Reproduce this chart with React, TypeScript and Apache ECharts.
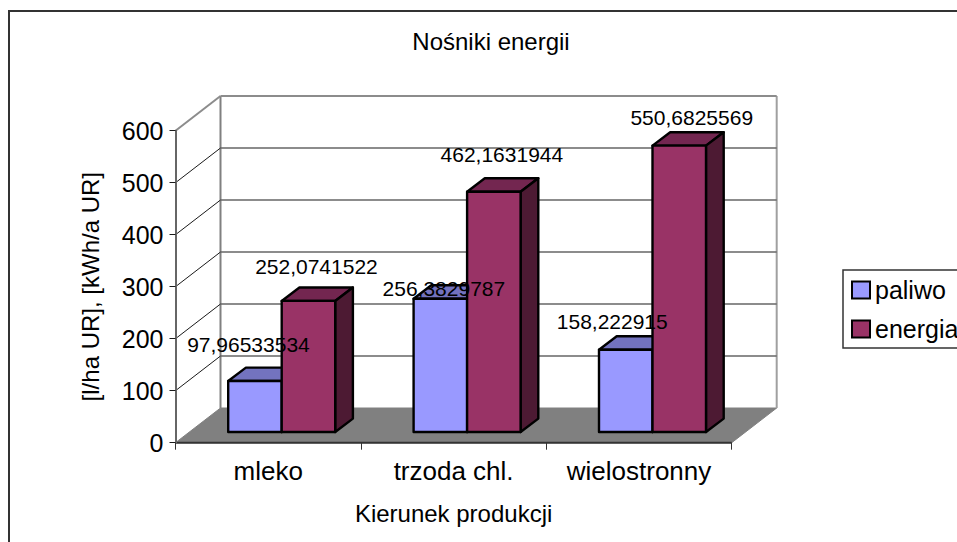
import React, { useEffect, useRef } from "react";
import * as echarts from "echarts";

const categories = ["mleko", "trzoda chl.", "wielostronny"];
const paliwo = [97.96533534, 256.3829787, 158.222915];
const energia = [252.0741522, 462.1631944, 550.6825569];
const valueTicks = [0, 100, 200, 300, 400, 500, 600];

// Hand-placed data label offsets from the top-front centre of each bar.
const paliwoLabelShift = [[-6.5, -37], [3.5, -10], [-13.5, -28.5]];
const energiaLabelShift = [[8, -34], [8, -37], [12.5, -28]];

const FONT = "Liberation Sans";
const WALL = { dx: 45, dy: -34.7 };
const BAR_INSET = { dx: 13.5, dy: -10.7 };
const BAR_DEPTH = { dx: 17.7, dy: -13.4 };
const BAR_WIDTH = 53.5;

const PALIWO = { front: "#9999FF", top: "#7373BF", side: "#4D4D80" };
const ENERGIA = { front: "#993366", top: "#732650", side: "#4D1A33" };

const pts = (...p: number[][]) => ({ points: p });

// Floor, back wall and the gridlines that wrap round the left wall.
function renderWalls(params: any, api: any) {
  const g = params.coordSys;
  const value = api.value(0) as number;
  const y = api.coord([0, value])[1];
  const left = g.x;
  const right = g.x + g.width;
  const backLeft = left + WALL.dx;
  const backRight = right + WALL.dx;
  const backY = y + WALL.dy;
  const children: any[] = [];
  if (value === 0) {
    children.push({
      type: "polygon",
      shape: pts([left, y], [backLeft, backY], [backRight, backY], [right, y]),
      style: { fill: "#808080", stroke: "#808080", lineWidth: 1 },
    });
    children.push({
      type: "line",
      shape: { x1: backLeft, y1: backY, x2: backLeft, y2: g.y + WALL.dy },
      style: { stroke: "#808080", lineWidth: 2 },
    });
    children.push({
      type: "line",
      shape: { x1: backRight, y1: backY, x2: backRight, y2: g.y + WALL.dy },
      style: { stroke: "#A0A0A0", lineWidth: 2 },
    });
    children.push({
      type: "line",
      shape: { x1: left, y1: y, x2: right, y2: y },
      style: { stroke: "#333333", lineWidth: 2 },
    });
    return { type: "group", children };
  }
  const top = value === 600;
  children.push({
    type: "line",
    shape: { x1: left, y1: y, x2: backLeft, y2: backY },
    style: { stroke: top ? "#8C8C8C" : "#1A1A1A", lineWidth: top ? 2 : 1 },
  });
  children.push({
    type: "line",
    shape: { x1: backLeft, y1: backY, x2: backRight, y2: backY },
    style: { stroke: top ? "#8C8C8C" : "#666666", lineWidth: top ? 2 : 1.5 },
  });
  return { type: "group", children };
}

// One 3D box: the side argument puts it left (-1) or right (0) of the band centre.
function renderBar(colors: typeof PALIWO, side: number) {
  return (params: any, api: any) => {
    const [cx, y1] = api.coord([api.value(0), api.value(1)]);
    const y0 = api.coord([api.value(0), 0])[1];
    const x = cx + BAR_INSET.dx + side * BAR_WIDTH;
    const top = y1 + BAR_INSET.dy;
    const bottom = y0 + BAR_INSET.dy;
    const r = x + BAR_WIDTH;
    const stroke = { stroke: "#000000", lineWidth: 2.4, lineJoin: "round" };
    return {
      type: "group",
      children: [
        {
          type: "polygon",
          shape: pts([x, top], [x + BAR_DEPTH.dx, top + BAR_DEPTH.dy], [r + BAR_DEPTH.dx, top + BAR_DEPTH.dy], [r, top]),
          style: { fill: colors.top, ...stroke },
        },
        {
          type: "polygon",
          shape: pts([r, top], [r + BAR_DEPTH.dx, top + BAR_DEPTH.dy], [r + BAR_DEPTH.dx, bottom + BAR_DEPTH.dy], [r, bottom]),
          style: { fill: colors.side, ...stroke },
        },
        {
          type: "polygon",
          shape: pts([x, top], [r, top], [r, bottom], [x, bottom]),
          style: { fill: colors.front, ...stroke },
        },
      ],
    };
  };
}

// Data labels sit above every box, so they get a series of their own.
function renderLabel(shifts: number[][], side: number) {
  return (params: any, api: any) => {
    const i = api.value(0) as number;
    const v = api.value(1) as number;
    const [cx, y1] = api.coord([i, v]);
    return {
      type: "text",
      x: cx + BAR_INSET.dx + (side + 0.5) * BAR_WIDTH + shifts[i][0],
      y: y1 + BAR_INSET.dy + shifts[i][1],
      style: {
        text: String(v).replace(".", ","),
        fill: "#000000",
        font: `21px "${FONT}"`,
        textAlign: "center",
        textVerticalAlign: "middle",
      },
    };
  };
}

const toRows = (values: number[]) => values.map((v, i) => [i, v]);

export default function App() {
  const ref = useRef<HTMLDivElement>(null);

  useEffect(() => {
    const chart = echarts.init(ref.current!, null, { renderer: "svg" });
    chart.setOption({
      animation: false,
      backgroundColor: "#FFFFFF",
      textStyle: { fontFamily: FONT, color: "#000000" },
      title: {
        text: "Nośniki energii",
        left: 486,
        top: 24,
        textAlign: "center",
        textStyle: { fontFamily: FONT, fontSize: 24, fontWeight: "normal", color: "#000000" },
      },
      graphic: [
        {
          type: "rect",
          z: -10,
          shape: { x: 9, y: 11, width: 1100, height: 700 },
          style: { fill: "#FFFFFF", stroke: "#333333", lineWidth: 2 },
        },
      ],
      grid: { left: 175.5, top: 130.7, width: 556.2, height: 312 },
      legend: {
        left: 843,
        top: 270,
        orient: "vertical",
        icon: "rect",
        data: ["paliwo", "energia"],
        itemWidth: 18,
        itemHeight: 17,
        itemGap: 14,
        padding: [7.5, 30, 6.5, 8],
        backgroundColor: "#FFFFFF",
        borderColor: "#333333",
        borderWidth: 1.5,
        borderRadius: 0,
        selectedMode: false,
        itemStyle: { borderColor: "#000000", borderWidth: 2 },
        textStyle: { fontFamily: FONT, fontSize: 25, color: "#000000" },
      },
      xAxis: {
        type: "category",
        data: categories,
        z: 10,
        name: "Kierunek produkcji",
        nameLocation: "middle",
        nameGap: 59,
        nameTextStyle: { fontFamily: FONT, fontSize: 24, color: "#000000" },
        axisLine: { show: false },
        axisTick: { show: true, length: 7, lineStyle: { color: "#333333", width: 1 } },
        axisLabel: { fontFamily: FONT, fontSize: 26, color: "#000000", margin: 15, interval: 0, hideOverlap: false },
        splitLine: { show: false },
      },
      yAxis: {
        type: "value",
        min: 0,
        max: 600,
        interval: 100,
        z: 10,
        name: "[l/ha UR], [kWh/a UR]",
        nameLocation: "middle",
        nameGap: 73,
        nameRotate: 90,
        nameTextStyle: { fontFamily: FONT, fontSize: 24, color: "#000000" },
        axisLine: { show: true, lineStyle: { color: "#666666", width: 2 } },
        axisTick: { show: true, length: 6, lineStyle: { color: "#1A1A1A", width: 1 } },
        axisLabel: { fontFamily: FONT, fontSize: 25, color: "#000000", margin: 12 },
        splitLine: { show: false },
      },
      series: [
        {
          type: "custom",
          name: "walls",
          z: 1,
          silent: true,
          renderItem: renderWalls,
          data: valueTicks.map((v) => [v]),
          encode: { y: 0 },
        },
        {
          type: "custom",
          name: "paliwo",
          z: 2,
          itemStyle: { color: PALIWO.front },
          renderItem: renderBar(PALIWO, -1),
          data: toRows(paliwo),
          encode: { x: 0, y: 1 },
        },
        {
          type: "custom",
          name: "energia",
          z: 3,
          itemStyle: { color: ENERGIA.front },
          renderItem: renderBar(ENERGIA, 0),
          data: toRows(energia),
          encode: { x: 0, y: 1 },
        },
        {
          type: "custom",
          name: "paliwoLabels",
          z: 5,
          silent: true,
          renderItem: renderLabel(paliwoLabelShift, -1),
          data: toRows(paliwo),
          encode: { x: 0, y: 1 },
        },
        {
          type: "custom",
          name: "energiaLabels",
          z: 5,
          silent: true,
          renderItem: renderLabel(energiaLabelShift, 0),
          data: toRows(energia),
          encode: { x: 0, y: 1 },
        },
      ],
    });
    return () => chart.dispose();
  }, []);

  return (
    <div
      ref={ref}
      style={{ position: "absolute", left: 0, top: 0, width: 957, height: 542 }}
    />
  );
}
